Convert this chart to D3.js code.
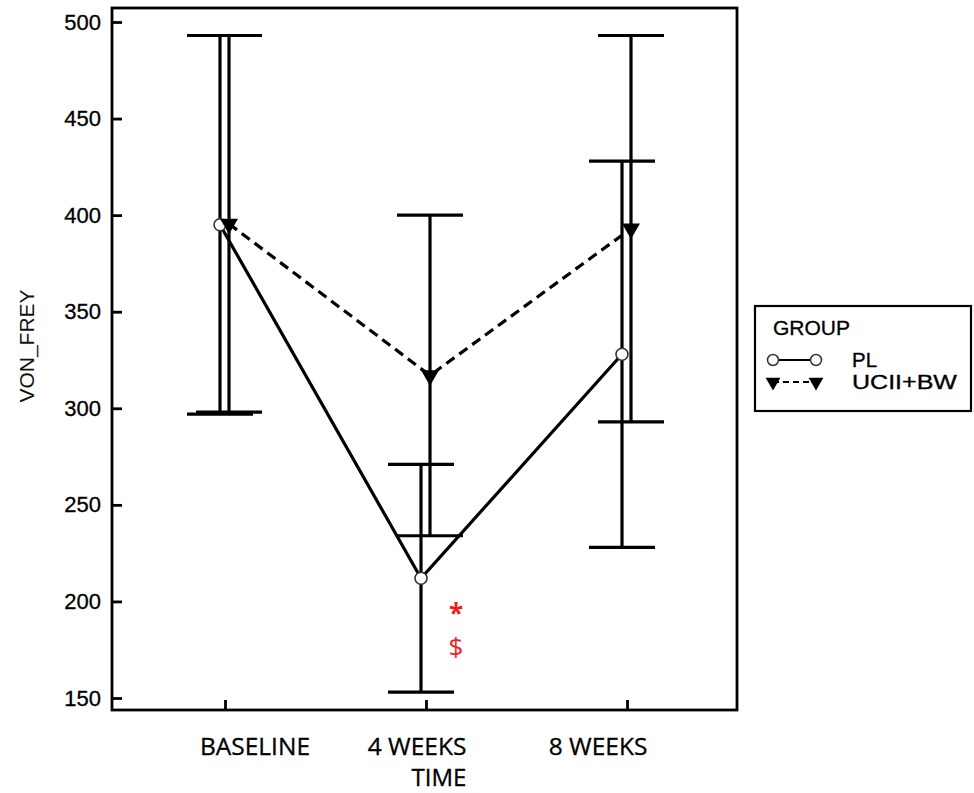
<!DOCTYPE html>
<html lang="en">
<head>
    <meta charset="UTF-8">
    <title>VON_FREY by TIME and GROUP</title>
    <script src="https://d3js.org/d3.v7.min.js"></script>
    <style>
        body { margin: 0; background: #fff; }
        svg { display: block; }
    </style>
</head>
<body>
    <div id="chart"></div>
    <script>
        // values
        const times = ["BASELINE", "4 WEEKS", "8 WEEKS"];
        const groups = ["PL", "UCII+BW"];
        const plMean = [395, 212, 328];
        const plErr = [98, 59, 100];
        const ucMean = [395.5, 317, 393];
        const ucErr = [97.5, 83, 100];
        const yTicks = [150, 200, 250, 300, 350, 400, 450, 500];
        const marks = ["*", "$"];
        const markValues = [196, 177];
        const markTime = "4 WEEKS";

        const w = 974;
        const h = 793;
        const frame = {left: 112, top: 8, right: 737, bottom: 710};

        const xScale = d3.scalePoint()
            .domain(times)
            .range([225, 627]);
        // the category labels sit off their ticks in the original
        const labelX = d3.scaleOrdinal()
            .domain(times)
            .range([255, 417, 598]);
        const yScale = d3.scaleLinear()
            .domain([150, 500])
            .range([698, 22]);
        const offset = {"PL": -5, "UCII+BW": 4};

        const series = [
            {name: "PL", mean: plMean, err: plErr},
            {name: "UCII+BW", mean: ucMean, err: ucErr}
        ];

        const svg = d3.select("#chart")
            .append("svg")
            .attr("width", w)
            .attr("height", h);

        // frame
        svg.append("rect")
            .attr("x", frame.left)
            .attr("y", frame.top)
            .attr("width", frame.right - frame.left)
            .attr("height", frame.bottom - frame.top)
            .attr("fill", "none")
            .attr("stroke", "#000")
            .attr("stroke-width", 2.8);

        // y axis, ticks point inward
        const yAxis = d3.axisRight(yScale)
            .tickValues(yTicks)
            .tickSize(10)
            .tickFormat(d3.format("d"));
        const gy = svg.append("g")
            .attr("id", "y-axis")
            .attr("transform", "translate(" + frame.left + ",0)")
            .call(yAxis);
        gy.select(".domain").remove();
        gy.selectAll(".tick line").attr("stroke", "#000").attr("stroke-width", 2.8);
        gy.selectAll(".tick text")
            .attr("x", -11)
            .attr("text-anchor", "end")
            .attr("font-family", "'Liberation Sans', Arial, sans-serif")
            .attr("font-size", 22)
            .attr("fill", "#000")
            .attr("stroke", "#000")
            .attr("stroke-width", 0.3);

        // x axis, ticks point up, labels placed separately
        const xAxis = d3.axisTop(xScale)
            .tickSize(10)
            .tickFormat("");
        const gx = svg.append("g")
            .attr("id", "x-axis")
            .attr("transform", "translate(0," + frame.bottom + ")")
            .call(xAxis);
        gx.select(".domain").remove();
        gx.selectAll(".tick line").attr("stroke", "#000").attr("stroke-width", 2.8);

        svg.selectAll(".xlabel")
            .data(times)
            .enter()
            .append("text")
            .attr("class", "xlabel")
            .attr("x", d => labelX(d))
            .attr("y", 755)
            .attr("text-anchor", "middle")
            .attr("font-family", "'Open Sans', sans-serif")
            .attr("font-size", 24.5)
            .attr("fill", "#000")
            .attr("stroke", "#000")
            .attr("stroke-width", 0.3)
            .text(d => d);

        svg.append("text")
            .attr("x", 439)
            .attr("y", 786)
            .attr("text-anchor", "middle")
            .attr("font-family", "'Open Sans', sans-serif")
            .attr("font-size", 24)
            .attr("fill", "#000")
            .attr("stroke", "#000")
            .attr("stroke-width", 0.3)
            .text("TIME");

        svg.append("text")
            .attr("transform", "translate(34,346) rotate(-90)")
            .attr("text-anchor", "middle")
            .attr("font-family", "'Liberation Sans', Arial, sans-serif")
            .attr("font-size", 21)
            .attr("fill", "#111")
            .text("VON_FREY");

        // error bars
        const capHalf = 33;
        series.forEach(s => {
            const g = svg.append("g").attr("class", "errbar");
            times.forEach((t, i) => {
                const x = xScale(t) + offset[s.name];
                const y1 = yScale(s.mean[i] + s.err[i]);
                const y0 = yScale(s.mean[i] - s.err[i]);
                g.append("line")
                    .attr("x1", x).attr("x2", x)
                    .attr("y1", y1).attr("y2", y0);
                g.append("line")
                    .attr("x1", x - capHalf).attr("x2", x + capHalf)
                    .attr("y1", y1).attr("y2", y1);
                g.append("line")
                    .attr("x1", x - capHalf).attr("x2", x + capHalf)
                    .attr("y1", y0).attr("y2", y0);
            });
            g.selectAll("line")
                .attr("stroke", "#000")
                .attr("stroke-width", 3.2);
        });

        // mean lines
        series.forEach(s => {
            const line = d3.line()
                .x((d, i) => xScale(times[i]) + offset[s.name])
                .y(d => yScale(d));
            svg.append("path")
                .datum(s.mean)
                .attr("d", line)
                .attr("fill", "none")
                .attr("stroke", "#000")
                .attr("stroke-width", 3.2)
                .attr("stroke-dasharray", s.name === "PL" ? null : "10,6");
        });

        // markers
        const tri = d3.symbol().type(d3.symbolTriangle).size(140);
        const triSmall = d3.symbol().type(d3.symbolTriangle).size(95);

        svg.selectAll(".pl-dot")
            .data(plMean)
            .enter()
            .append("circle")
            .attr("class", "pl-dot")
            .attr("cx", (d, i) => xScale(times[i]) + offset["PL"])
            .attr("cy", d => yScale(d))
            .attr("r", 6)
            .attr("fill", "#fff")
            .attr("stroke", "#333")
            .attr("stroke-width", 1.6);

        svg.selectAll(".uc-dot")
            .data(ucMean)
            .enter()
            .append("path")
            .attr("class", "uc-dot")
            .attr("d", tri)
            .attr("transform", (d, i) => "translate(" + (xScale(times[i]) + offset["UCII+BW"]) + "," + yScale(d) + ") rotate(180)")
            .attr("fill", "#000");

        // significance marks
        svg.selectAll(".mark")
            .data(marks)
            .enter()
            .append("text")
            .attr("class", "mark")
            .attr("x", xScale(markTime) + 30)
            .attr("y", (d, i) => yScale(markValues[i]))
            .attr("dy", (d, i) => i === 0 ? 14 : 10)
            .attr("text-anchor", "middle")
            .attr("font-family", "'Open Sans', sans-serif")
            .attr("font-size", 26)
            .attr("font-weight", (d, i) => i === 0 ? "bold" : "normal")
            .attr("fill", "#f01c1c")
            .text(d => d);

        // legend
        const legend = svg.append("g").attr("id", "legend");
        legend.append("rect")
            .attr("x", 755)
            .attr("y", 306)
            .attr("width", 216)
            .attr("height", 105)
            .attr("fill", "#fff")
            .attr("stroke", "#000")
            .attr("stroke-width", 2.2);

        const legendFont = "'Liberation Sans', Arial, sans-serif";
        legend.append("text")
            .attr("x", 773)
            .attr("y", 335)
            .attr("font-family", legendFont)
            .attr("font-size", 19.5)
            .attr("textLength", 77)
            .attr("lengthAdjust", "spacingAndGlyphs")
            .attr("fill", "#000")
            .attr("stroke", "#000")
            .attr("stroke-width", 0.3)
            .text("GROUP");

        const rowY = [360, 382];
        const rowLen = [25, 105];
        groups.forEach((gname, i) => {
            const y = rowY[i];
            legend.append("line")
                .attr("x1", 773).attr("x2", 816)
                .attr("y1", y).attr("y2", y)
                .attr("stroke", "#000")
                .attr("stroke-width", 2)
                .attr("stroke-dasharray", gname === "PL" ? null : "6,4");
            [773, 816].forEach(x => {
                if (gname === "PL") {
                    legend.append("circle")
                        .attr("cx", x).attr("cy", y).attr("r", 5.5)
                        .attr("fill", "#fff")
                        .attr("stroke", "#333")
                        .attr("stroke-width", 1.5);
                } else {
                    legend.append("path")
                        .attr("d", triSmall)
                        .attr("transform", "translate(" + x + "," + y + ") rotate(180)")
                        .attr("fill", "#000");
                }
            });
            legend.append("text")
                .attr("x", 852)
                .attr("y", y + 7)
                .attr("font-family", legendFont)
                .attr("font-size", 19.5)
                .attr("textLength", rowLen[i])
                .attr("lengthAdjust", "spacingAndGlyphs")
                .attr("fill", "#000")
                .attr("stroke", "#000")
                .attr("stroke-width", 0.3)
                .text(gname);
        });
    </script>
</body>
</html>
